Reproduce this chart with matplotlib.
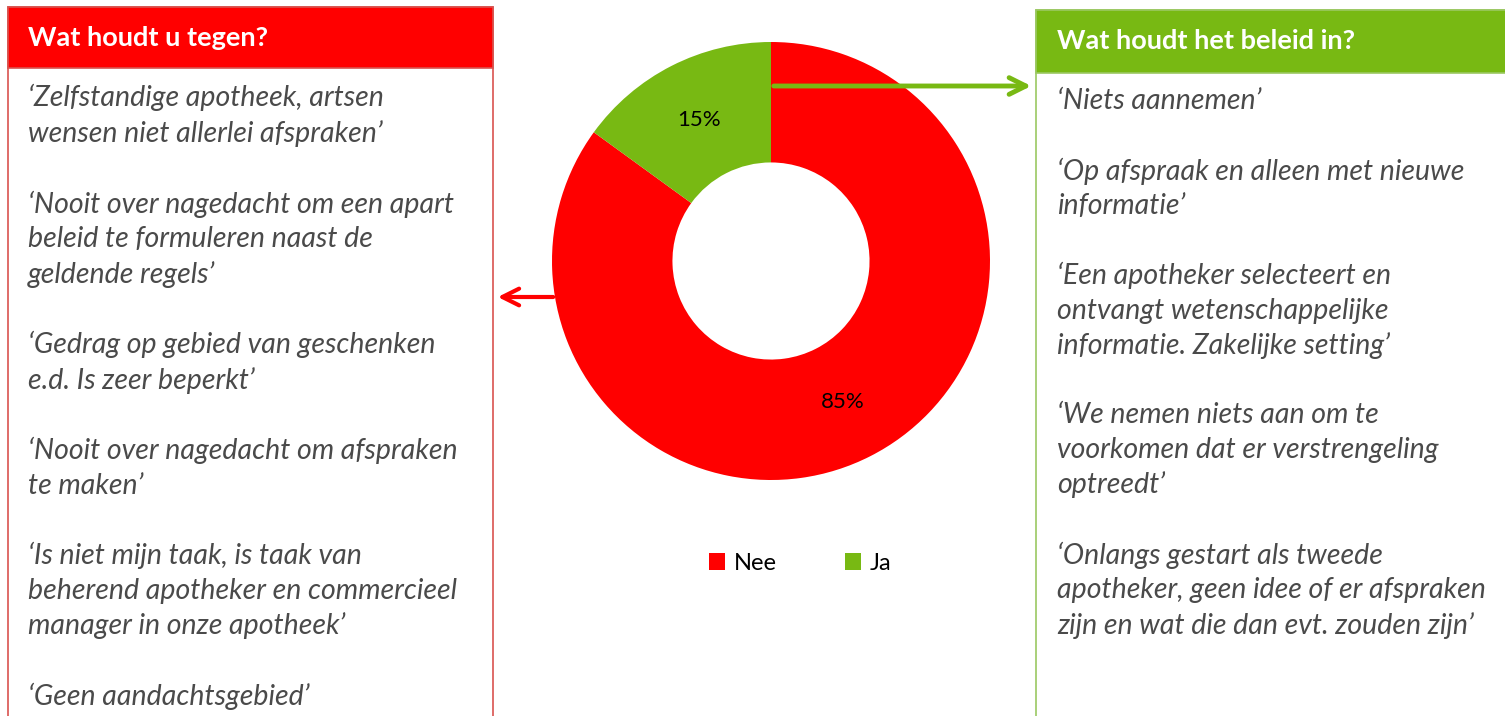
import matplotlib
matplotlib.use("Agg")
import matplotlib.pyplot as plt
from matplotlib.patches import Rectangle

# data
labels = ["Nee", "Ja"]
shares = [85, 15]
colors = ["#FF0000", "#78B913"]

left_title = "Wat houdt u tegen?"
left_quotes = [
    "\u2018Zelfstandige apotheek, artsen\nwensen niet allerlei afspraken\u2019",
    "\u2018Nooit over nagedacht om een apart\nbeleid te formuleren naast de\ngeldende regels\u2019",
    "\u2018Gedrag op gebied van geschenken\ne.d. Is zeer beperkt\u2019",
    "\u2018Nooit over nagedacht om afspraken\nte maken\u2019",
    "\u2018Is niet mijn taak, is taak van\nbeherend apotheker en commercieel\nmanager in onze apotheek\u2019",
    "\u2018Geen aandachtsgebied\u2019",
]

right_title = "Wat houdt het beleid in?"
right_quotes = [
    "\u2018Niets aannemen\u2019",
    "\u2018Op afspraak en alleen met nieuwe\ninformatie\u2019",
    "\u2018Een apotheker selecteert en\nontvangt wetenschappelijke\ninformatie. Zakelijke setting\u2019",
    "\u2018We nemen niets aan om te\nvoorkomen dat er verstrengeling\noptreedt\u2019",
    "\u2018Onlangs gestart als tweede\napotheker, geen idee of er afspraken\nzijn en wat die dan evt. zouden zijn\u2019",
]

W, H = 1505, 716
plt.rcParams['font.family'] = ['Lato', 'DejaVu Sans']
fig = plt.figure(figsize=(W / 100, H / 100), dpi=100)

# background axes in pixel coordinates
bg = fig.add_axes([0, 0, 1, 1])
bg.set_xlim(0, W)
bg.set_ylim(H, 0)
bg.axis("off")

txt_grey = "#4a4a4a"
fs_body = 20.5
lsp = 1.398

# left box
bg.add_patch(Rectangle((8, 7), 485, 720, facecolor="white", edgecolor="#D9534F", lw=1.2))
bg.add_patch(Rectangle((8, 7), 485, 61, facecolor=colors[0], edgecolor="#D9534F", lw=1.2))
bg.text(28, 38, left_title, color="white", fontsize=19.5, fontweight="bold", va="center", ha="left")
bg.text(28, 84, "\n\n".join(left_quotes), color=txt_grey, fontsize=fs_body, style="italic",
        va="top", ha="left", linespacing=lsp)

# right box
bg.add_patch(Rectangle((1036, 10), 480, 720, facecolor="white", edgecolor="#9BC862", lw=1.2))
bg.add_patch(Rectangle((1036, 10), 480, 63, facecolor=colors[1], edgecolor="#9BC862", lw=1.2))
bg.text(1057, 41, right_title, color="white", fontsize=19.5, fontweight="bold", va="center", ha="left")
bg.text(1057, 88, "\n\n".join(right_quotes), color=txt_grey, fontsize=fs_body, style="italic",
        va="top", ha="left", linespacing=lsp)

# donut
cx, cy, r = 771, 261, 219
ax = fig.add_axes([(cx - r) / W, (H - cy - r) / H, 2 * r / W, 2 * r / H])
wedges, _, autotexts = ax.pie(shares, colors=colors, startangle=90, counterclock=False,
                              wedgeprops=dict(width=0.55, linewidth=0),
                              autopct="%d%%", pctdistance=0.725,
                              textprops=dict(fontsize=16, color="black"))
ax.set_aspect("equal")
ax.set_xlim(-1, 1)
ax.set_ylim(-1, 1)

# arrows on top of the donut
top = fig.add_axes([0, 0, 1, 1])
top.set_xlim(0, W)
top.set_ylim(H, 0)
top.axis("off")
top.patch.set_alpha(0)
top.annotate("", xy=(1034, 86), xytext=(771, 86),
             arrowprops=dict(arrowstyle="->,head_length=1.2,head_width=0.6", color=colors[1], lw=3.5))
top.annotate("", xy=(495, 297), xytext=(556, 297),
             arrowprops=dict(arrowstyle="->,head_length=1.2,head_width=0.6", color=colors[0], lw=3))

fig.legend(wedges, labels, loc="center", bbox_to_anchor=(800 / W, 1 - 563 / H), ncol=2,
           frameon=False, fontsize=17, handlelength=0.7, handleheight=0.7,
           handletextpad=0.35, columnspacing=2.9)

fig.savefig("out.png", dpi=100)
